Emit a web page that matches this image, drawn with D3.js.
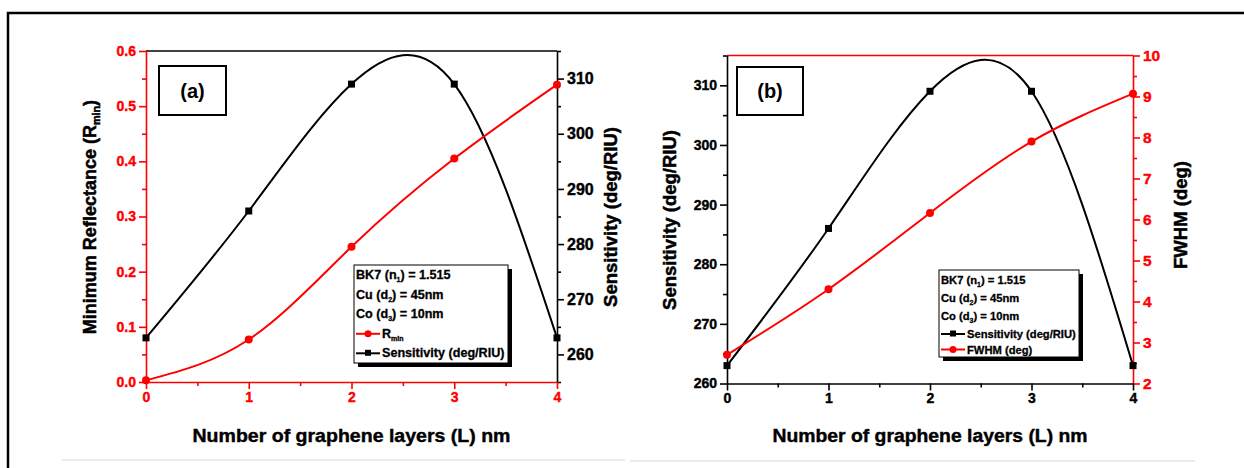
<!DOCTYPE html>
<html>
<head>
<meta charset="utf-8">
<script src="https://cdn.jsdelivr.net/npm/d3@7"></script>
<style>
  body { margin: 0; background: #fff; }
  svg { display: block; }
  text { font-family: "Liberation Sans", Arial, sans-serif; font-weight: bold; }
</style>
</head>
<body>
<div id="chartdiv"></div>
<script>
// data
var layers = [0, 1, 2, 3, 4];
var sensitivity = [263, 286, 309, 309, 263];
var rMin = [0.003, 0.077, 0.245, 0.405, 0.539];
var fwhm = [2.7, 4.3, 6.16, 7.9, 9.07];

// tick labels
var xTicks = [0, 1, 2, 3, 4];
var xMinor = [0.5, 1.5, 2.5, 3.5];
var rMinTicks = [0, 0.1, 0.2, 0.3, 0.4, 0.5, 0.6];
var rMinMinor = [0.05, 0.15, 0.25, 0.35, 0.45, 0.55];
var sensTicksA = [260, 270, 280, 290, 300, 310];
var sensMinorA = [255, 265, 275, 285, 295, 305, 315];
var sensTicksB = [260, 270, 280, 290, 300, 310];
var sensMinorB = [265, 275, 285, 295, 305, 315];
var fwhmTicks = [2, 3, 4, 5, 6, 7, 8, 9, 10];
var fwhmMinor = [2.5, 3.5, 4.5, 5.5, 6.5, 7.5, 8.5, 9.5];

var RED = "#ff0000";
var BLACK = "#000000";

var svg = d3.select("#chartdiv")
    .append("svg")
    .attr("width", 1244)
    .attr("height", 468);

// outer frame (top and left edges only are visible)
svg.append("path")
    .attr("d", "M8,468 V13 H1244")
    .attr("fill", "none")
    .attr("stroke", BLACK)
    .attr("stroke-width", 2.5);

// faint separator lines under each panel
svg.append("line").attr("x1", 62).attr("x2", 625).attr("y1", 460).attr("y2", 460)
    .attr("stroke", "#e4e4e4").attr("stroke-width", 1.5);
svg.append("line").attr("x1", 630).attr("x2", 1195).attr("y1", 461).attr("y2", 461)
    .attr("stroke", "#e4e4e4").attr("stroke-width", 1.5);

function addAxis(axisFn, scale, pos, majors, minors, color, fmt, fontSize) {
    var ax = svg.append("g").attr("transform", pos);
    ax.call(axisFn(scale).tickValues(majors).tickFormat(fmt)
        .tickSize(7).tickSizeOuter(0).tickPadding(3));
    var mi = ax.append("g");
    mi.call(axisFn(scale).tickValues(minors).tickFormat("").tickSize(4).tickSizeOuter(0));
    mi.select(".domain").remove();
    ax.selectAll("path, line").attr("stroke", color).attr("stroke-width", 1.6);
    ax.selectAll("text")
        .attr("fill", color)
        .attr("stroke", color)
        .attr("stroke-width", 0.4)
        .attr("font-family", "'Liberation Sans', Arial, sans-serif")
        .attr("font-weight", "bold")
        .attr("font-size", fontSize);
    return ax;
}

function drawSeries(x, y, values, color, shape) {
    var line = d3.line()
        .x(function (d, i) { return x(layers[i]); })
        .y(function (d) { return y(d); })
        .curve(d3.curveNatural);
    svg.append("path")
        .datum(values)
        .attr("d", line)
        .attr("fill", "none")
        .attr("stroke", color)
        .attr("stroke-width", 2);
    if (shape === "square") {
        svg.append("g").selectAll("rect")
            .data(values)
            .enter()
            .append("rect")
            .attr("x", function (d, i) { return x(layers[i]) - 3.5; })
            .attr("y", function (d) { return y(d) - 3.5; })
            .attr("width", 7)
            .attr("height", 7)
            .attr("fill", color);
    } else {
        svg.append("g").selectAll("circle")
            .data(values)
            .enter()
            .append("circle")
            .attr("cx", function (d, i) { return x(layers[i]); })
            .attr("cy", function (d) { return y(d); })
            .attr("r", 4)
            .attr("fill", color);
    }
}

function yTitle(x, y, parts, size) {
    var t = svg.append("text")
        .attr("transform", "translate(" + x + "," + y + ") rotate(-90)")
        .attr("text-anchor", "middle")
        .attr("font-size", size)
        .attr("fill", BLACK)
        .attr("stroke", BLACK)
        .attr("stroke-width", 0.5);
    parts.forEach(function (p) {
        var s = t.append("tspan").text(p.t);
        if (p.sub) s.attr("font-size", size * 0.6).attr("dy", 4);
        if (p.back) s.attr("dy", -4);
    });
}

function labelBox(x, y, w, h, txt) {
    svg.append("rect").attr("x", x).attr("y", y).attr("width", w).attr("height", h)
        .attr("fill", "#fff").attr("stroke", BLACK).attr("stroke-width", 2);
    svg.append("text")
        .attr("x", x + w / 2)
        .attr("y", y + h / 2 + 7)
        .attr("text-anchor", "middle")
        .attr("font-family", "'Open Sans', sans-serif")
        .attr("font-weight", 600)
        .attr("font-size", 20)
        .text(txt);
}

function legendBox(x, y, w, h, size, rows) {
    svg.append("rect").attr("x", x + 4).attr("y", y + 4).attr("width", w).attr("height", h)
        .attr("fill", BLACK);
    svg.append("rect").attr("x", x).attr("y", y).attr("width", w).attr("height", h)
        .attr("fill", "#fff").attr("stroke", BLACK).attr("stroke-width", 1);
    var by = y + 14;
    rows.forEach(function (r) {
        var tx = x + 2;
        if (r.color) {
            svg.append("line").attr("x1", x + 2).attr("x2", x + 26)
                .attr("y1", by - 4).attr("y2", by - 4)
                .attr("stroke", r.color).attr("stroke-width", 2);
            if (r.shape === "square") {
                svg.append("rect").attr("x", x + 11).attr("y", by - 7.5)
                    .attr("width", 6).attr("height", 6).attr("fill", r.color);
            } else {
                svg.append("circle").attr("cx", x + 14).attr("cy", by - 4)
                    .attr("r", 3.5).attr("fill", r.color);
            }
            tx = x + 28;
        }
        var t = svg.append("text").attr("x", tx).attr("y", by)
            .attr("font-size", size).attr("fill", BLACK)
            .attr("stroke", BLACK).attr("stroke-width", 0.3);
        r.parts.forEach(function (p) {
            var s = t.append("tspan").text(p.t);
            if (p.sub) s.attr("font-size", 7).attr("dy", 3);
            if (p.back) s.attr("dy", -3);
        });
        by += r.step;
    });
}

// ---------- panel (a) ----------
var ax0 = 146, ax1 = 557, ay0 = 51, ay1 = 382;
var xA = d3.scaleLinear().domain([0, 4]).range([ax0, ax1]);
var yR = d3.scaleLinear().domain([0, 0.6]).range([ay1, ay0]);
var yS = d3.scaleLinear().domain([255, 315]).range([ay1, ay0]);

svg.append("line").attr("x1", ax0).attr("x2", ax1).attr("y1", ay0).attr("y2", ay0)
    .attr("stroke", BLACK).attr("stroke-width", 1.6);
addAxis(d3.axisRight, yS, "translate(" + ax1 + ",0)", sensTicksA, sensMinorA, BLACK, d3.format("d"), 16);
addAxis(d3.axisLeft, yR, "translate(" + ax0 + ",0)", rMinTicks, rMinMinor, RED, d3.format(".1f"), 14);
addAxis(d3.axisBottom, xA, "translate(0," + ay1 + ")", xTicks, xMinor, RED, d3.format("d"), 14);

drawSeries(xA, yS, sensitivity, BLACK, "square");
drawSeries(xA, yR, rMin, RED, "circle");

labelBox(159, 66, 67, 49, "(a)");
legendBox(354, 265, 154, 98, 12.6, [
    {step: 19.8, parts: [{t: "BK7 (n"}, {t: "1", sub: true}, {t: ") = 1.515", back: true}]},
    {step: 19.5, parts: [{t: "Cu (d"}, {t: "2", sub: true}, {t: ") = 45nm", back: true}]},
    {step: 19.5, parts: [{t: "Co (d"}, {t: "3", sub: true}, {t: ") = 10nm", back: true}]},
    {step: 19.5, color: RED, shape: "circle", parts: [{t: "R"}, {t: "min", sub: true}]},
    {step: 19.5, color: BLACK, shape: "square", parts: [{t: "Sensitivity (deg/RIU)"}]}
]);

yTitle(96, 217, [{t: "Minimum  Reflectance (R"}, {t: "min", sub: true}, {t: ")", back: true}], 18);
yTitle(617, 217, [{t: "Sensitivity (deg/RIU)"}], 18.5);

svg.append("text")
    .attr("x", (ax0 + ax1) / 2)
    .attr("y", 442)
    .attr("text-anchor", "middle")
    .attr("font-size", 18)
    .attr("stroke", BLACK)
    .attr("stroke-width", 0.4)
    .attr("textLength", 318)
    .attr("lengthAdjust", "spacingAndGlyphs")
    .text("Number of graphene layers (L) nm");

// ---------- panel (b) ----------
var bx0 = 727, bx1 = 1133, by0 = 55.5, by1 = 383.5;
var xB = d3.scaleLinear().domain([0, 4]).range([bx0, bx1]);
var ySB = d3.scaleLinear().domain([260, 315]).range([by1, by0]);
var yF = d3.scaleLinear().domain([2, 10]).range([by1, by0]);

svg.append("line").attr("x1", bx0).attr("x2", bx1).attr("y1", by0).attr("y2", by0)
    .attr("stroke", RED).attr("stroke-width", 1.6);
addAxis(d3.axisLeft, ySB, "translate(" + bx0 + ",0)", sensTicksB, sensMinorB, BLACK, d3.format("d"), 14);
addAxis(d3.axisRight, yF, "translate(" + bx1 + ",0)", fwhmTicks, fwhmMinor, RED, d3.format("d"), 15.5);
addAxis(d3.axisBottom, xB, "translate(0," + by1 + ")", xTicks, xMinor, BLACK, d3.format("d"), 14);

drawSeries(xB, ySB, sensitivity, BLACK, "square");
drawSeries(xB, yF, fwhm, RED, "circle");

labelBox(737, 67, 66, 48, "(b)");
legendBox(939, 270, 140, 87, 11.2, [
    {step: 18, parts: [{t: "BK7 (n"}, {t: "1", sub: true}, {t: ") = 1.515", back: true}]},
    {step: 18, parts: [{t: "Cu (d"}, {t: "2", sub: true}, {t: ") = 45nm", back: true}]},
    {step: 18, parts: [{t: "Co (d"}, {t: "3", sub: true}, {t: ") = 10nm", back: true}]},
    {step: 15.5, color: BLACK, shape: "square", parts: [{t: "Sensitivity (deg/RIU)"}]},
    {step: 16, color: RED, shape: "circle", parts: [{t: "FWHM (deg)"}]}
]);

yTitle(676, 220, [{t: "Sensitivity (deg/RIU)"}], 18.5);
yTitle(1187, 215, [{t: "FWHM (deg)"}], 18.5);

svg.append("text")
    .attr("x", (bx0 + bx1) / 2)
    .attr("y", 442)
    .attr("text-anchor", "middle")
    .attr("font-size", 18)
    .attr("stroke", BLACK)
    .attr("stroke-width", 0.4)
    .attr("textLength", 315)
    .attr("lengthAdjust", "spacingAndGlyphs")
    .text("Number of graphene layers (L) nm");
</script>
</body>
</html>
